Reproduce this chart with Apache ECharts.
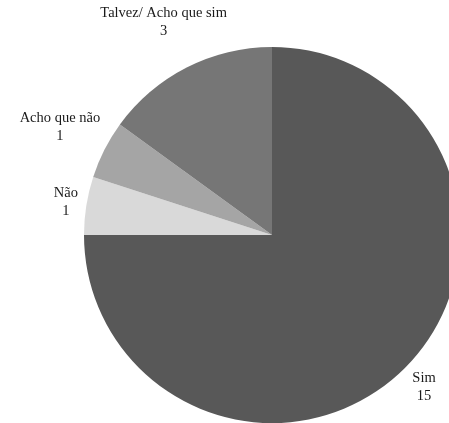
<!DOCTYPE html>
<html><head><meta charset="utf-8">
<script src="https://cdn.jsdelivr.net/npm/echarts@6/dist/echarts.min.js"></script>
<style>html,body{margin:0;padding:0;background:#fff}#c{width:449px;height:423px}</style>
</head><body><div id="c"></div>
<script>
const categories = ['Sim', 'Não', 'Acho que não', 'Talvez/ Acho que sim'];
const values = [15, 1, 1, 3];
const colors = ['#585858', '#d9d9d9', '#a5a5a5', '#767676'];

const CX = 272, CY = 235, R = 188, GAP = 6;
const total = values.reduce((a, b) => a + b, 0);
function midAngle(i) {
  let s = 0;
  for (let k = 0; k < i; k++) s += values[k];
  return (s + values[i] / 2) / total * 2 * Math.PI;
}

const chart = echarts.init(document.getElementById('c'), null, {renderer: 'canvas'});
chart.setOption({
  animation: false,
  series: [{
    type: 'pie',
    center: [CX, CY],
    radius: R,
    startAngle: 90,
    clockwise: true,
    data: categories.map((n, i) => ({name: n, value: values[i], itemStyle: {color: colors[i]}})),
    itemStyle: {borderWidth: 0},
    label: {
      show: true,
      position: 'inside',
      overflow: 'none',
      formatter: '{b}\n{c}',
      fontFamily: 'Liberation Serif',
      fontSize: 14.5,
      lineHeight: 18,
      color: '#1a1a1a',
      align: 'center'
    },
    labelLine: {show: false},
    emphasis: {disabled: true},
    labelLayout: function (p) {
      const a = midAngle(p.dataIndex);
      const sx = Math.sin(a), cy = Math.cos(a);
      const w = p.labelRect.width, h = p.labelRect.height;
      const d = R + GAP + Math.abs(sx) * w / 2 + Math.abs(cy) * h / 2;
      return {x: CX + d * sx, y: CY - d * cy, align: 'center', verticalAlign: 'middle', hideOverlap: false};
    }
  }]
});
</script></body></html>
